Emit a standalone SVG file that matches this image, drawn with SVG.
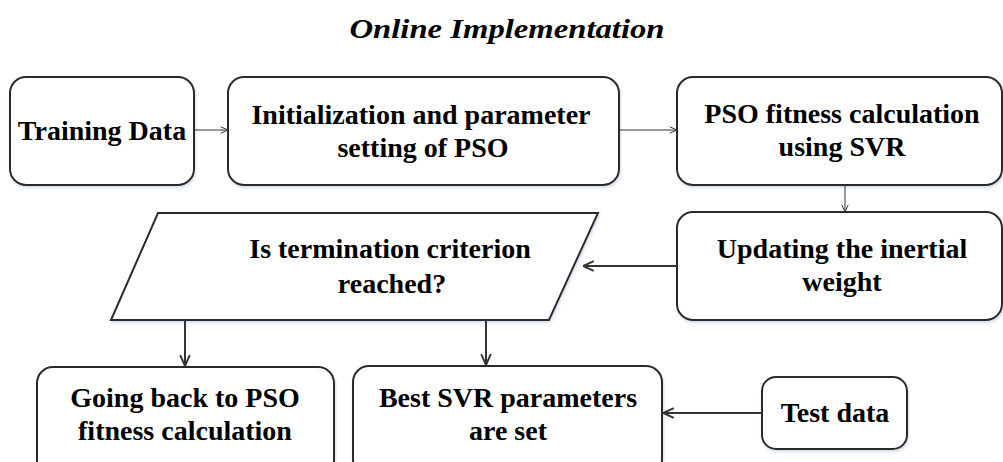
<svg xmlns="http://www.w3.org/2000/svg" width="1003" height="462" viewBox="0 0 1003 462">
<defs>
<filter id="sh" x="-5%" y="-5%" width="110%" height="115%">
<feDropShadow dx="1" dy="2" stdDeviation="1.5" flood-color="#9fb3cf" flood-opacity="0.45"/>
</filter>
<marker id="ah" viewBox="0 0 10 10" refX="10" refY="5" markerWidth="8" markerHeight="8" markerUnits="userSpaceOnUse" orient="auto">
<path d="M1,1 L10,5 L1,9" fill="none" stroke="#333" stroke-width="1.2"/>
</marker>
<marker id="ah2" viewBox="0 0 10 10" refX="10" refY="5" markerWidth="12" markerHeight="12" markerUnits="userSpaceOnUse" orient="auto">
<path d="M1,1 L10,5 L1,9" fill="none" stroke="#333" stroke-width="1.6"/>
</marker>
</defs>
<text x="507" y="38" font-family="Liberation Serif, serif" font-weight="bold" font-style="italic" font-size="28" text-anchor="middle" textLength="315" lengthAdjust="spacingAndGlyphs">Online Implementation</text>
<g fill="#fff" stroke="#2b2b2b" stroke-width="2" filter="url(#sh)">
<g id="n-training"><rect x="10" y="77" width="184" height="108" rx="16"/></g>
<g id="n-init"><rect x="228" y="77" width="391" height="108" rx="16"/></g>
<g id="n-fitness"><rect x="677" y="77" width="325" height="108" rx="16"/></g>
<g id="n-update"><rect x="677" y="212" width="325" height="108" rx="16"/></g>
<g id="n-term"><polygon points="158,213 598,213 549,320 111,320"/></g>
<g id="n-back"><rect x="37" y="367" width="297" height="110" rx="16"/></g>
<g id="n-best"><rect x="353" y="366" width="309" height="110" rx="16"/></g>
<g id="n-test"><rect x="762" y="377" width="145" height="72" rx="14"/></g>
</g>
<g id="labels" font-family="Liberation Serif, serif" font-weight="bold" font-size="28" fill="#000" text-anchor="middle">
<text x="102" y="140">Training Data</text>
<text x="421" y="124">Initialization and parameter</text>
<text x="423" y="157">setting of PSO</text>
<text x="842" y="123">PSO fitness calculation</text>
<text x="842" y="156">using SVR</text>
<text x="842" y="258">Updating the inertial</text>
<text x="842" y="291">weight</text>
<text x="390" y="258">Is termination criterion</text>
<text x="392" y="293">reached?</text>
<text x="185" y="407">Going back to PSO</text>
<text x="185" y="440">fitness calculation</text>
<text x="508" y="407">Best SVR parameters</text>
<text x="508" y="440">are set</text>
<text x="835" y="422">Test data</text>
</g>
<g id="connectors" fill="none" stroke="#333">
<line stroke-width="1" x1="194" y1="130" x2="228" y2="130" marker-end="url(#ah)"/>
<line stroke-width="1" x1="619" y1="130" x2="677" y2="130" marker-end="url(#ah)"/>
<line stroke-width="1" x1="845" y1="185" x2="845" y2="212" marker-end="url(#ah)"/>
<line stroke-width="2" x1="677" y1="266" x2="583" y2="266" marker-end="url(#ah2)"/>
<line stroke-width="2" x1="185" y1="320" x2="185" y2="366" marker-end="url(#ah2)"/>
<line stroke-width="2" x1="486" y1="320" x2="486" y2="365" marker-end="url(#ah2)"/>
<line stroke-width="2" x1="762" y1="413" x2="663" y2="413" marker-end="url(#ah2)"/>
</g>
</svg>
